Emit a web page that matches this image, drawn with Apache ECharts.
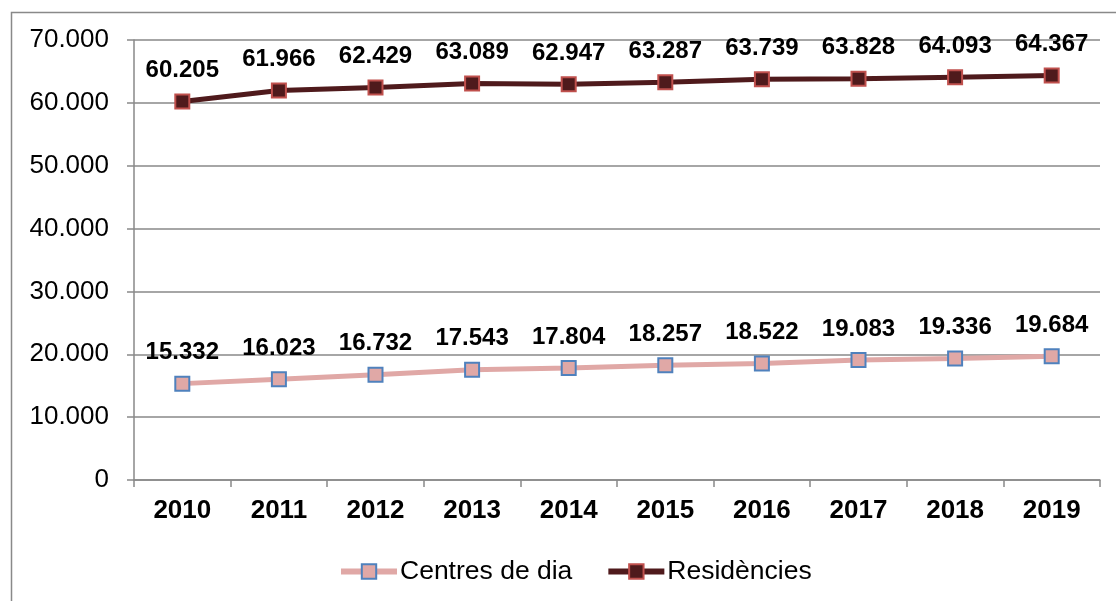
<!DOCTYPE html>
<html>
<head>
<meta charset="utf-8">
<script src="https://cdn.jsdelivr.net/npm/echarts@6/dist/echarts.min.js"></script>
<style>
  html, body { margin: 0; padding: 0; background: #fff; }
  #chart { width: 1116px; height: 601px; }
</style>
</head>
<body>
<div id="chart"></div>
<script>
// Years on the category axis
const years = ['2010', '2011', '2012', '2013', '2014', '2015', '2016', '2017', '2018', '2019'];
// Places in day centres
const centresDeDia = [15332, 16023, 16732, 17543, 17804, 18257, 18522, 19083, 19336, 19684];
// Places in residences
const residencies = [60205, 61966, 62429, 63089, 62947, 63287, 63739, 63828, 64093, 64367];

const FONT = '"Liberation Sans", Arial, sans-serif';

// Thousands separator with a dot (Catalan style)
function fmt(v) {
  return String(Math.round(v)).replace(/\B(?=(\d{3})+(?!\d))/g, '.');
}

const chart = echarts.init(document.getElementById('chart'), null, { renderer: 'canvas' });

const labelStyle = {
  show: true,
  position: 'top',
  distance: 11,
  fontFamily: FONT,
  fontSize: 24,
  fontWeight: 'bold',
  color: '#000',
  formatter: p => fmt(p.value)
};

chart.setOption({
  animation: false,
  backgroundColor: '#fff',
  graphic: [{
    type: 'rect',
    left: 9, top: 10,
    shape: { width: 1200, height: 700 },
    style: { fill: 'none', stroke: '#898989', lineWidth: 1.5 },
    silent: true
  }],
  grid: { left: 134, right: 16, top: 40, bottom: 121 },
  legend: {
    bottom: 11,
    left: 333,
    itemWidth: 56,
    itemHeight: 18,
    itemGap: 33,
    lineStyle: { width: 6 },
    textStyle: { fontFamily: FONT, fontSize: 26.5, color: '#000', padding: [0, 0, 0, -2] },
    data: ['Centres de dia', 'Residències']
  },
  xAxis: {
    type: 'category',
    data: years,
    boundaryGap: true,
    axisLine: { lineStyle: { color: '#898989', width: 1.5 } },
    axisTick: { show: true, length: 7, lineStyle: { color: '#898989', width: 1.5 } },
    axisLabel: { fontFamily: FONT, fontSize: 26, fontWeight: 'bold', color: '#000', margin: 18 }
  },
  yAxis: {
    type: 'value',
    min: 0, max: 70000, interval: 10000,
    axisLine: { show: true, lineStyle: { color: '#898989', width: 1.5 } },
    axisTick: { show: true, length: 7, lineStyle: { color: '#898989', width: 1.5 } },
    splitLine: { show: true, lineStyle: { color: '#898989', width: 1.5 } },
    axisLabel: { fontFamily: FONT, fontSize: 26, color: '#000', margin: 25, formatter: v => fmt(v) }
  },
  series: [
    {
      name: 'Centres de dia',
      type: 'line',
      data: centresDeDia,
      symbol: 'rect',
      symbolSize: 14,
      lineStyle: { color: '#E0A8A6', width: 5 },
      itemStyle: { color: '#E0A8A6', borderColor: '#4F81BD', borderWidth: 2 },
      label: labelStyle,
      z: 3
    },
    {
      name: 'Residències',
      type: 'line',
      data: residencies,
      symbol: 'rect',
      symbolSize: 14,
      lineStyle: { color: '#4F1A1C', width: 5 },
      itemStyle: { color: '#4F1A1C', borderColor: '#C0504D', borderWidth: 2 },
      label: labelStyle,
      z: 3
    }
  ]
});
</script>
</body>
</html>
